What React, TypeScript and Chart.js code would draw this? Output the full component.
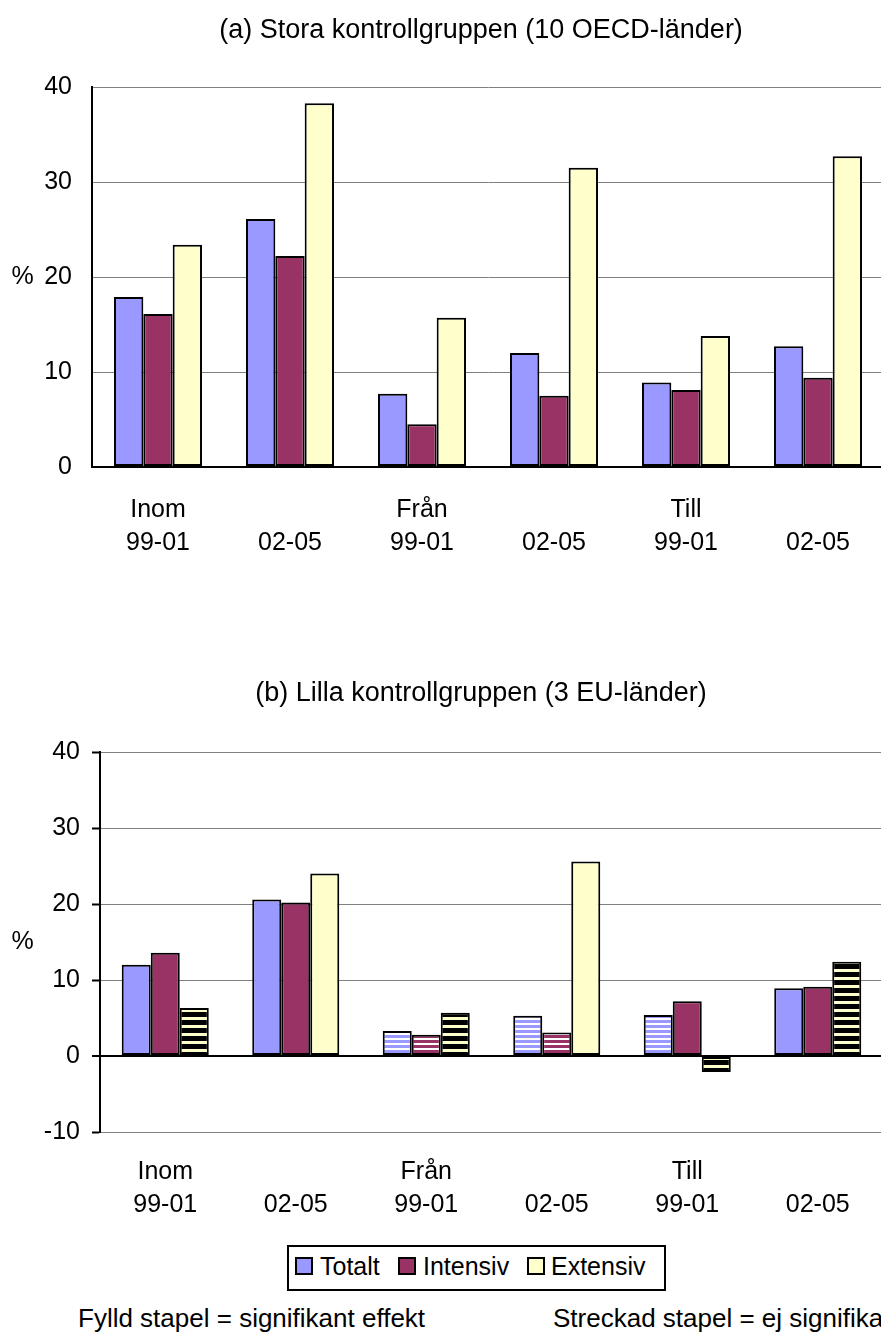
import React, { useEffect, useRef } from "react";
import { Chart, registerables } from "chart.js";

Chart.register(...registerables);

const FONT = '"Liberation Sans", Arial, Helvetica, sans-serif';

// ---- data ----
const categories: string[][] = [
  ["Inom", "99-01"],
  ["", "02-05"],
  ["Från", "99-01"],
  ["", "02-05"],
  ["Till", "99-01"],
  ["", "02-05"],
];
const seriesNames = ["Totalt", "Intensiv", "Extensiv"];
const seriesColors = ["#9999FF", "#993366", "#FFFFCC"];

const titleA = "(a) Stora kontrollgruppen (10 OECD-länder)";
const titleB = "(b) Lilla kontrollgruppen (3 EU-länder)";

const aTotalt = [17.9, 26.1, 7.7, 12.0, 8.9, 12.7];
const aIntensiv = [16.1, 22.2, 4.5, 7.5, 8.1, 9.4];
const aExtensiv = [23.4, 38.3, 15.7, 31.5, 13.8, 32.7];

const bTotalt = [12.0, 20.6, 3.3, 5.3, 5.4, 8.9];
const bIntensiv = [13.6, 20.2, 2.8, 3.1, 7.2, 9.1];
const bExtensiv = [6.3, 24.0, 5.7, 25.6, -2.1, 12.4];

// 1 = significant (filled), 0 = not significant (striped)
const bSigTotalt = [1, 1, 0, 0, 0, 1];
const bSigIntensiv = [1, 1, 0, 0, 1, 1];
const bSigExtensiv = [0, 1, 0, 1, 0, 0];

const yTicksA = [0, 10, 20, 30, 40];
const yTicksB = [-10, 0, 10, 20, 30, 40];

const footLeft = "Fylld stapel = signifikant effekt";
const footRight = "Streckad stapel = ej signifikant effekt";

function makeStripes(c1: string, h1: number, c2: string, h2: number) {
  const cv = document.createElement("canvas");
  cv.width = 4;
  cv.height = h1 + h2;
  const g = cv.getContext("2d")!;
  g.fillStyle = c1;
  g.fillRect(0, 0, 4, h1);
  g.fillStyle = c2;
  g.fillRect(0, h1, 4, h2);
  const p = document.createElement("canvas").getContext("2d")!.createPattern(cv, "repeat");
  return p as CanvasPattern;
}

function textPlugin(title: string, baseline: number) {
  return {
    id: "txt",
    afterDraw(chart: any) {
      const { ctx, chartArea } = chart;
      ctx.save();
      ctx.fillStyle = "#000";
      ctx.font = `27px ${FONT}`;
      ctx.textAlign = "center";
      ctx.textBaseline = "alphabetic";
      ctx.fillText(title, 481, baseline);
      ctx.font = `25px ${FONT}`;
      ctx.textBaseline = "middle";
      ctx.fillText("%", 22.5, (chartArea.top + chartArea.bottom) / 2);
      ctx.restore();
    },
  };
}

function makeOptions(
  ticks: number[],
  yWidth: number,
  xHeight: number,
  padTop: number,
  padRight: number,
  drawTicks: boolean,
  yPad: number,
  xPad: number
) {
  return {
    animation: false,
    responsive: false,
    maintainAspectRatio: false,
    events: [],
    layout: { padding: { top: padTop, right: padRight, left: 0, bottom: 0 } },
    plugins: { legend: { display: false }, tooltip: { enabled: false } },
    datasets: { bar: { categoryPercentage: 0.667, barPercentage: 1 } },
    scales: {
      x: {
        grid: { display: false },
        border: { display: false },
        ticks: {
          color: "#000",
          font: { family: FONT, size: 25, lineHeight: 1.3 },
          padding: xPad,
          maxRotation: 0,
          autoSkip: false,
        },
        afterFit(s: any) {
          s.height = xHeight;
        },
      },
      y: {
        min: ticks[0],
        max: ticks[ticks.length - 1],
        afterBuildTicks(s: any) {
          s.ticks = ticks.map((v) => ({ value: v }));
        },
        ticks: {
          color: "#000",
          font: { family: FONT, size: 25 },
          padding: yPad,
        },
        grid: {
          color: (c: any) => (c.tick && c.tick.value === 0 ? "#000" : "#808080"),
          lineWidth: (c: any) => (c.tick && c.tick.value === 0 ? 2 : 1),
          drawTicks: drawTicks,
          tickLength: 8,
          tickColor: "#000",
          tickWidth: 2,
        },
        border: { color: "#000", width: 2 },
        afterFit(s: any) {
          s.width = yWidth;
        },
      },
    },
  };
}

export default function App() {
  const refA = useRef<HTMLCanvasElement>(null);
  const refB = useRef<HTMLCanvasElement>(null);

  useEffect(() => {
    const stripeT = makeStripes("#9999FF", 3, "#FFFFFF", 2);
    const stripeI = makeStripes("#993366", 3, "#FFFFFF", 2);
    const stripeE = makeStripes("#000000", 5, "#FFFFCC", 3);
    const stripes = [stripeT, stripeI, stripeE];

    const aData = [aTotalt, aIntensiv, aExtensiv];
    const bData = [bTotalt, bIntensiv, bExtensiv];
    const bSig = [bSigTotalt, bSigIntensiv, bSigExtensiv];

    const chartA = new Chart(refA.current!, {
      type: "bar",
      data: {
        labels: categories,
        datasets: seriesNames.map((n, i) => ({
          label: n,
          data: aData[i],
          backgroundColor: seriesColors[i],
          borderColor: "#000",
          borderWidth: 2,
          borderSkipped: false,
        })),
      },
      options: makeOptions(yTicksA, 92, 133, 87, 16, false, 20, 19) as any,
      plugins: [textPlugin(titleA, 38)],
    });

    const chartB = new Chart(refB.current!, {
      type: "bar",
      data: {
        labels: categories,
        datasets: seriesNames.map((n, i) => ({
          label: n,
          data: bData[i],
          backgroundColor: bSig[i].map((s) => (s ? seriesColors[i] : stripes[i])),
          borderColor: "#000",
          borderWidth: 2,
          borderSkipped: false,
        })),
      },
      options: makeOptions(yTicksB, 100, 98, 132, 17, true, 12, 16) as any,
      plugins: [textPlugin(titleB, 701 - 620)],
    });

    return () => {
      chartA.destroy();
      chartB.destroy();
    };
  }, []);

  const text: React.CSSProperties = {
    position: "absolute",
    fontFamily: FONT,
    fontSize: 25,
    lineHeight: "25px",
    color: "#000",
    whiteSpace: "nowrap",
  };
  const marker = (left: number, color: string): React.CSSProperties => ({
    position: "absolute",
    left,
    top: 1257,
    width: 18,
    height: 18,
    boxSizing: "border-box",
    border: "2px solid #000",
    background: color,
  });

  return (
    <div
      style={{
        position: "absolute",
        left: 0,
        top: 0,
        width: 881,
        height: 1338,
        overflow: "hidden",
        background: "#fff",
      }}
    >
      <canvas
        ref={refA}
        width={900}
        height={600}
        style={{ position: "absolute", left: 0, top: 0, width: 900, height: 600 }}
      />
      <canvas
        ref={refB}
        width={900}
        height={610}
        style={{ position: "absolute", left: 0, top: 620, width: 900, height: 610 }}
      />
      <div
        style={{
          position: "absolute",
          left: 287,
          top: 1245,
          width: 379,
          height: 46,
          boxSizing: "border-box",
          border: "2px solid #000",
        }}
      />
      <div style={marker(295, seriesColors[0])} />
      <div style={{ ...text, left: 320, top: 1254 }}>{seriesNames[0]}</div>
      <div style={marker(398, seriesColors[1])} />
      <div style={{ ...text, left: 423, top: 1254 }}>{seriesNames[1]}</div>
      <div style={marker(527, seriesColors[2])} />
      <div style={{ ...text, left: 551, top: 1254 }}>{seriesNames[2]}</div>
      <div style={{ ...text, fontSize: 26, left: 78, top: 1306 }}>{footLeft}</div>
      <div style={{ ...text, fontSize: 26, left: 553, top: 1306 }}>{footRight}</div>
    </div>
  );
}
